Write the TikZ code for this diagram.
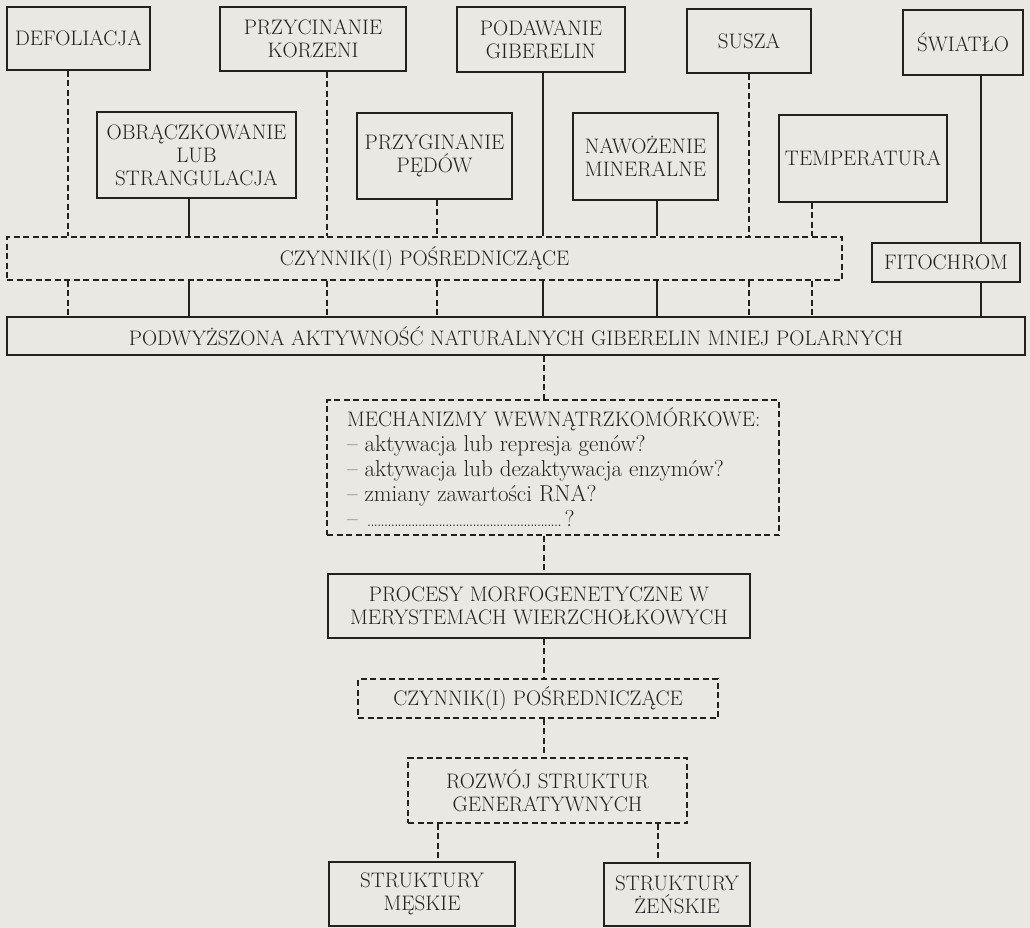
\documentclass[tikz,border=0pt]{standalone}
\definecolor{paper}{RGB}{233,232,227}
\definecolor{ink}{RGB}{35,33,30}
\newcommand\vconn[4]{\draw[#1] (#2,0 |- #3.south) -- (#2,0 |- #4.north);}
\newcommand\lowline[1]{{\fontsize{23}{25}\selectfont #1}}
\begin{document}
\begin{tikzpicture}[x=1pt,y=-1pt,
  every node/.style={font=\fontsize{21}{23}\selectfont, align=center, inner sep=0pt, text=ink},
  sbox/.style={draw=ink, line width=1.2pt, rectangle},
  dbox/.style={draw=ink, line width=1.2pt, rectangle, dash pattern=on 6pt off 3.5pt},
  sl/.style={draw=ink, line width=1.2pt},
  dl/.style={draw=ink, line width=1.2pt, dash pattern=on 6pt off 3.5pt}]
\fill[paper] (0,0) rectangle (1030,928);
\useasboundingbox (0,0) rectangle (1030,928);
% row 1
\node[sbox, minimum width=143, minimum height=63] (def) at (78.5,38.5) {DEFOLIACJA};
\node[sbox, minimum width=186, minimum height=64] (przyc) at (313,39) {PRZYCINANIE\\KORZENI};
\node[sbox, minimum width=168, minimum height=65] (podaw) at (541,39.5) {PODAWANIE\\GIBERELIN};
\node[sbox, minimum width=124, minimum height=64] (susza) at (749,41) {SUSZA};
\node[sbox, minimum width=120, minimum height=65] (swiat) at (963,42.5) {ŚWIATŁO};
% row 2
\node[sbox, minimum width=199, minimum height=86] (obr) at (196.5,155) {OBRĄCZKOWANIE\\LUB\\STRANGULACJA};
\node[sbox, minimum width=155, minimum height=86] (przyg) at (434.5,156) {PRZYGINANIE\\PĘDÓW};
\node[sbox, minimum width=145, minimum height=87] (nawoz) at (645.5,156.5) {NAWOŻENIE\\MINERALNE};
\node[sbox, minimum width=168, minimum height=87] (temp) at (863,158.5) {TEMPERATURA};
% intermediates
\node[dbox, minimum width=835, minimum height=43] (czyn1) at (424.5,258.5) {CZYNNIK(I) POŚREDNICZĄCE};
\node[sbox, minimum width=148, minimum height=39] (fito) at (946,262.5) {FITOCHROM};
\node[sbox, minimum width=1018, minimum height=38] (podw) at (516,336) {PODWYŻSZONA AKTYWNOŚĆ NATURALNYCH GIBERELIN MNIEJ POLARNYCH};
\node[dbox, minimum width=452, minimum height=135, text width=412, inner xsep=20pt, align=left,
  font=\fontsize{21}{25}\selectfont] (mech) at (553,467.5)
  {\mbox{MECHANIZMY WEWNĄTRZKOMÓRKOWE:}\\
   \lowline{– aktywacja lub represja genów?}\\
   \lowline{– aktywacja lub dezaktywacja enzymów?}\\
   \lowline{– zmiany zawartości RNA?}\\
   \lowline{– {\fontsize{18}{25}\selectfont\leaders\hbox to 3.4pt{\hss.\hss}\hskip 200pt}?}};
\node[sbox, minimum width=422, minimum height=64] (proc) at (539,606) {PROCESY MORFOGENETYCZNE W\\MERYSTEMACH WIERZCHOŁKOWYCH};
\node[dbox, minimum width=360, minimum height=39] (czyn2) at (538,698.5) {CZYNNIK(I) POŚREDNICZĄCE};
\node[dbox, minimum width=279, minimum height=65] (rozw) at (547.5,790.5) {ROZWÓJ STRUKTUR\\GENERATYWNYCH};
\node[sbox, minimum width=186, minimum height=64] (mesk) at (422,894) {STRUKTURY\\MĘSKIE};
\node[sbox, minimum width=146, minimum height=63] (zensk) at (677,894.5) {STRUKTURY\\ŻEŃSKIE};
% connectors row1 -> czyn1
\vconn{dl}{68}{def}{czyn1}
\vconn{dl}{327}{przyc}{czyn1}
\vconn{sl}{543}{podaw}{czyn1}
\vconn{dl}{749}{susza}{czyn1}
\vconn{sl}{981}{swiat}{fito}
% row2 -> czyn1
\vconn{sl}{189}{obr}{czyn1}
\vconn{dl}{437}{przyg}{czyn1}
\vconn{sl}{657}{nawoz}{czyn1}
\vconn{dl}{812}{temp}{czyn1}
% czyn1 -> podw
\vconn{dl}{68}{czyn1}{podw}
\vconn{sl}{189}{czyn1}{podw}
\vconn{dl}{327}{czyn1}{podw}
\vconn{dl}{437}{czyn1}{podw}
\vconn{sl}{543}{czyn1}{podw}
\vconn{sl}{657}{czyn1}{podw}
\vconn{dl}{749}{czyn1}{podw}
\vconn{dl}{812}{czyn1}{podw}
\vconn{sl}{981}{fito}{podw}
% lower chain
\vconn{dl}{544}{podw}{mech}
\vconn{dl}{544}{mech}{proc}
\vconn{dl}{544}{proc}{czyn2}
\vconn{dl}{544}{czyn2}{rozw}
\vconn{dl}{438}{rozw}{mesk}
\vconn{dl}{658}{rozw}{zensk}
\end{tikzpicture}
\end{document}
